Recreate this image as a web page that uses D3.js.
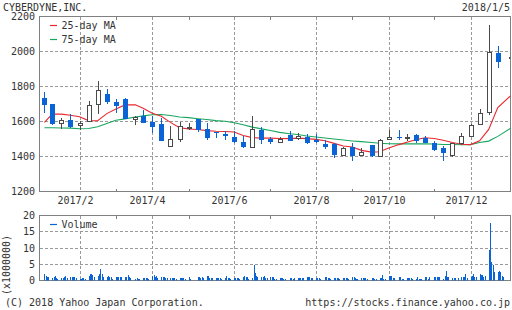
<!DOCTYPE html>
<html><head><meta charset="utf-8">
<script src="https://cdn.jsdelivr.net/npm/d3@7"></script>
<style>
html,body{margin:0;padding:0;background:#fff;}
svg{display:block;}
text{font-family:"DejaVu Sans Mono",monospace;font-size:10px;fill:#333;}
</style></head><body>
<svg id="chart" width="512" height="310"></svg>
<script>
// ---- data (weekly candles, first trading day of each week) ----
const weekDates = ["2017-01-10","2017-01-16","2017-01-23","2017-01-30","2017-02-06","2017-02-13","2017-02-20","2017-02-27","2017-03-06","2017-03-13","2017-03-21","2017-03-27","2017-04-03","2017-04-10","2017-04-17","2017-04-24","2017-05-01","2017-05-08","2017-05-15","2017-05-22","2017-05-29","2017-06-05","2017-06-12","2017-06-19","2017-06-26","2017-07-03","2017-07-10","2017-07-18","2017-07-24","2017-07-31","2017-08-07","2017-08-14","2017-08-21","2017-08-28","2017-09-04","2017-09-11","2017-09-19","2017-09-25","2017-10-02","2017-10-10","2017-10-16","2017-10-23","2017-10-30","2017-11-06","2017-11-13","2017-11-20","2017-11-27","2017-12-04","2017-12-11","2017-12-18","2017-12-25","2018-01-04"];
const opens  = [1737,1699,1592,1611,1581,1600,1701,1758,1714,1730,1613,1629,1598,1583,1461,1501,1566,1615,1558,1539,1526,1514,1482,1455,1552,1501,1484,1522,1503,1510,1495,1472,1474,1410,1453,1410,1463,1402,1501,1514,1508,1524,1503,1478,1448,1410,1476,1520,1587,1657,1989,1968];
const highs  = [1766,1700,1621,1642,1604,1720,1829,1783,1731,1732,1634,1667,1630,1621,1573,1600,1592,1616,1594,1541,1543,1543,1516,1629,1566,1510,1510,1543,1533,1526,1526,1495,1476,1457,1476,1450,1465,1501,1552,1554,1528,1526,1518,1488,1461,1480,1533,1585,1674,2149,2029,1981];
const lows   = [1648,1579,1558,1564,1554,1596,1644,1699,1650,1612,1579,1590,1533,1488,1461,1482,1554,1539,1495,1507,1495,1478,1448,1455,1472,1472,1478,1486,1495,1469,1480,1444,1392,1406,1377,1402,1400,1400,1497,1495,1491,1476,1478,1432,1377,1396,1465,1514,1583,1638,1907,1930];
const closes = [1695,1585,1606,1566,1594,1695,1781,1712,1688,1615,1627,1594,1566,1488,1501,1575,1568,1554,1507,1533,1516,1482,1453,1558,1495,1482,1501,1491,1516,1478,1482,1457,1408,1451,1402,1425,1402,1495,1514,1505,1510,1486,1480,1436,1419,1478,1518,1581,1648,1998,1941,1971];
// moving averages read at each week's date
const ma25 = [1595,1642,1642,1636,1627,1605,1604,1645,1672,1695,1696,1676,1647,1630,1595,1565,1557,1554,1548,1544,1543,1540,1520,1508,1505,1505,1503,1502,1505,1502,1498,1490,1475,1460,1454,1435,1425,1427,1448,1468,1481,1496,1507,1503,1493,1480,1470,1468,1490,1555,1680,1748];
const ma75 = [1564,1564,1563,1562,1559,1560,1570,1589,1607,1615,1626,1632,1639,1640,1634,1626,1622,1616,1611,1605,1601,1593,1581,1568,1558,1549,1538,1530,1526,1517,1511,1506,1500,1494,1489,1485,1480,1476,1473,1472,1472,1472,1472,1471,1469,1469,1467,1468,1480,1488,1515,1562];
// daily volume (x1000000), grouped by week
const volumeByWeek = [
 [2.0,1.4,1.1,1.0],[0.9,1.2,1.4,0.9,0.6],[0.9,0.9,1.0,1.3,0.9],[1.1,1.1,1.1,1.1,0.9],
 [0.5,0.5,0.7,0.9,0.6],[1.4,1.9,2.0,1.8,1.1],[1.4,2.0,3.5,1.9,1.1],[1.2,1.4,1.1,1.1,0.6],
 [1.0,1.1,1.0,1.1,1.0],[1.0,1.2,1.6,1.1,0.7],[0.5,0.8,0.6,0.6],[0.7,0.9,0.9,0.9,0.5],
 [1.5,1.7,1.1,1.5,0.7],[1.0,1.0,1.0,0.7,0.7],[0.8,0.8,0.8,0.8,0.5],[0.8,0.8,0.8,0.8,0.6],
 [1.0,0.5],[1.1,1.1,0.8,1.1,0.7],[1.3,1.3,0.8,0.8,0.8],[0.7,0.7,0.7,0.7,0.6],
 [0.8,1.4,0.7,0.7,0.5],[0.9,0.9,0.9,0.9,0.6],[1.2,1.4,1.2,1.2,0.6],[0.7,4.7,2.3,1.4,1.2],
 [1.2,1.2,1.4,0.7,0.7],[1.0,1.0,1.0,0.6,0.6],[0.8,0.8,0.8,0.4,0.4],[0.7,0.7,0.5,0.7],
 [0.7,0.7,0.7,0.7,0.7],[1.1,1.1,1.1,0.8,0.8],[0.9,0.9,0.9,0.4],[1.1,1.1,0.9,0.9,0.5],
 [0.9,0.9,0.9,0.9,0.6],[0.7,0.7,0.9,0.9,0.5],[1.1,1.1,0.7,0.5,0.5],[0.9,0.9,0.9,0.9,0.5],
 [0.9,0.9,0.4,0.5],[0.9,0.9,1.7,0.6,0.6],[1.4,1.4,1.4,0.7,0.7],[1.0,1.0,0.6,0.5],
 [0.7,0.7,0.7,0.7,0.6],[0.6,1.1,0.5,0.5,0.5],[1.0,1.0,0.6,1.0],[1.0,1.0,1.0,1.0,1.0],
 [0.4,1.4,2.9,1.0,1.0],[0.7,0.7,0.7,0.7],[1.0,1.0,1.2,2.0,0.8],[1.2,1.5,2.0,1.0,1.2],
 [2.0,1.7,1.6,1.0,1.4],[9.3,17.8,5.7,4.7,2.7],[2.6,2.9,2.6,1.4,1.0],[1.7,1.4]
];
const holidays = ["2017-01-09","2017-03-20","2017-05-03","2017-05-04","2017-05-05","2017-07-17","2017-08-11","2017-09-18","2017-10-09","2017-11-03","2017-11-23","2018-01-01","2018-01-02","2018-01-03"];
const priceTicks = [1200,1400,1600,1800,2000,2200];
const volumeTicks = [0,5,10,15,20];
const monthLabels = ["2017/2","2017/4","2017/6","2017/8","2017/10","2017/12"];
const title = "CYBERDYNE,INC.";
const lastDate = "2018/1/5";

// ---- setup ----
const parse = d3.utcParse("%Y-%m-%d");
const fmt = d3.utcFormat("%Y-%m-%d");
const dates = weekDates.map(parse);
const candles = dates.map((d,i)=>({date:d,o:opens[i],h:highs[i],l:lows[i],c:closes[i]}));

const L = 39.5, R = 510.5, T1 = 16.5, B1 = 191.5, T2 = 215.5, B2 = 280.5;
const x = d3.scaleUtc().domain([parse("2017-02-06"), parse("2017-12-04")]).range([79.5, 470.5]);
const y = d3.scaleLinear().domain([1200,2200]).range([B1, T1]);
const yv = d3.scaleLinear().domain([0,20]).range([B2, T2]);

const BLUE = "#0a64d6", RED = "#e8282e", GREEN = "#19a660", GRID = "#9a9a9a", FRAME = "#808080", DARK = "#4a4a4a";

const svg = d3.select("#chart");
const defs = svg.append("defs");
defs.append("clipPath").attr("id","c1").append("rect").attr("x",L).attr("y",T1).attr("width",R-L).attr("height",B1-T1);
defs.append("clipPath").attr("id","c2").append("rect").attr("x",L).attr("y",T2).attr("width",R-L).attr("height",B2-T2);

// month boundaries from week dates
const monthStarts = [];
dates.forEach((d,i)=>{ if(i>0 && d.getUTCMonth()!==dates[i-1].getUTCMonth()) monthStarts.push(d); });
const major = monthStarts.filter(d=>d.getUTCMonth()%2===1 && d.getUTCFullYear()===2017);
const minor = monthStarts.filter(d=>!(d.getUTCMonth()%2===1 && d.getUTCFullYear()===2017));
const px = d => Math.round(x(d)) + 0.5;

function panel(top, bottom, yScale, ticks){
  const g = svg.append("g");
  g.selectAll(null).data(ticks.filter(t=>yScale(t)>top+1 && yScale(t)<bottom-1)).enter().append("line")
    .attr("x1",L).attr("x2",R).attr("y1",t=>Math.round(yScale(t)-0.5)+0.5).attr("y2",t=>Math.round(yScale(t)-0.5)+0.5)
    .attr("stroke",GRID).attr("stroke-dasharray","3,2").attr("shape-rendering","crispEdges");
  g.selectAll(null).data(major).enter().append("line")
    .attr("x1",px).attr("x2",px).attr("y1",top).attr("y2",bottom)
    .attr("stroke",GRID).attr("stroke-dasharray","3,2").attr("shape-rendering","crispEdges");
  const mn = minor.filter(d=>x(d)<R-1);
  g.selectAll(null).data(mn).enter().append("line")
    .attr("x1",px).attr("x2",px).attr("y1",bottom).attr("y2",bottom-3)
    .attr("stroke",FRAME).attr("shape-rendering","crispEdges");
  g.selectAll(null).data(mn).enter().append("line")
    .attr("x1",px).attr("x2",px).attr("y1",top).attr("y2",top+3)
    .attr("stroke",FRAME).attr("shape-rendering","crispEdges");
  g.selectAll(null).data(ticks).enter().append("text")
    .attr("x",35).attr("y",t=>yScale(t)).attr("dy","0.36em").attr("text-anchor","end").text(t=>t);
  g.append("rect").attr("x",L).attr("y",top).attr("width",R-L).attr("height",bottom-top)
    .attr("fill","none").attr("stroke",FRAME).attr("shape-rendering","crispEdges");
}

panel(T1,B1,y,priceTicks);
panel(T2,B2,yv,volumeTicks);

svg.selectAll(null).data(major).enter().append("text")
  .attr("x",d=>px(d)-5).attr("y",204).attr("text-anchor","middle").text((d,i)=>monthLabels[i]);

// ---- moving averages ----
const gp = svg.append("g").attr("clip-path","url(#c1)");
const lineFor = arr => d3.line().x((d,i)=>x(dates[i])).y(d=>y(d))(arr);
gp.append("path").attr("d",lineFor(ma75)).attr("fill","none").attr("stroke",GREEN).attr("stroke-width",1.1);
gp.append("path").attr("d",lineFor(ma25)).attr("fill","none").attr("stroke",RED).attr("stroke-width",1.1);

// ---- candles ----
const cg = gp.selectAll("g.c").data(candles).enter().append("g");
cg.append("line").attr("x1",d=>px(d.date)).attr("x2",d=>px(d.date))
  .attr("y1",d=>y(d.h)).attr("y2",d=>y(d.l))
  .attr("stroke",d=>d.c>=d.o?DARK:BLUE).attr("shape-rendering","crispEdges");
cg.each(function(d){
  const g = d3.select(this), cx = px(d.date);
  const top = y(Math.max(d.o,d.c)), bot = y(Math.min(d.o,d.c));
  if(d.c>=d.o){
    g.append("rect").attr("x",cx-2).attr("y",Math.round(top)+0.5).attr("width",4)
      .attr("height",Math.max(1,Math.round(bot)-Math.round(top)))
      .attr("fill","#fff").attr("stroke",DARK).attr("shape-rendering","crispEdges");
  } else {
    g.append("rect").attr("x",cx-2.5).attr("y",Math.round(top)).attr("width",5)
      .attr("height",Math.max(1,Math.round(bot)-Math.round(top)))
      .attr("fill",BLUE).attr("shape-rendering","crispEdges");
  }
});

// ---- volume ----
const vdata = [];
dates.forEach((d,i)=>{
  let cur = d;
  volumeByWeek[i].forEach(v=>{
    while(cur.getUTCDay()===0 || cur.getUTCDay()===6 || holidays.includes(fmt(cur))) cur = d3.utcDay.offset(cur,1);
    vdata.push({date:cur, v:v});
    cur = d3.utcDay.offset(cur,1);
  });
});
svg.append("g").attr("clip-path","url(#c2)").selectAll("rect").data(vdata).enter().append("rect")
  .attr("x",d=>Math.round(x(d.date))).attr("width",1)
  .attr("y",d=>yv(d.v)).attr("height",d=>B2-yv(d.v))
  .attr("fill",BLUE).attr("shape-rendering","crispEdges");

// ---- legends ----
function legend(yy, color, label){
  svg.append("line").attr("x1",50).attr("x2",57).attr("y1",yy).attr("y2",yy).attr("stroke",color).attr("stroke-width",1.2);
  svg.append("text").attr("x",61.5).attr("y",yy+3.5).text(label);
}
legend(25.5, RED, "25-day MA");
legend(39.5, GREEN, "75-day MA");
legend(224.5, BLUE, "Volume");

// ---- texts ----
svg.append("text").attr("x",3).attr("y",10.5).text(title);
svg.append("text").attr("x",510).attr("y",10.5).attr("text-anchor","end").text(lastDate);
svg.append("text").attr("transform","translate(9.5,265) rotate(-90)").attr("text-anchor","middle").text("(x1000000)");
svg.append("text").attr("x",5).attr("y",305.5).text("(C) 2018 Yahoo Japan Corporation.");
svg.append("text").attr("x",510).attr("y",305.5).attr("text-anchor","end").text("https://stocks.finance.yahoo.co.jp");
</script>
</body></html>
